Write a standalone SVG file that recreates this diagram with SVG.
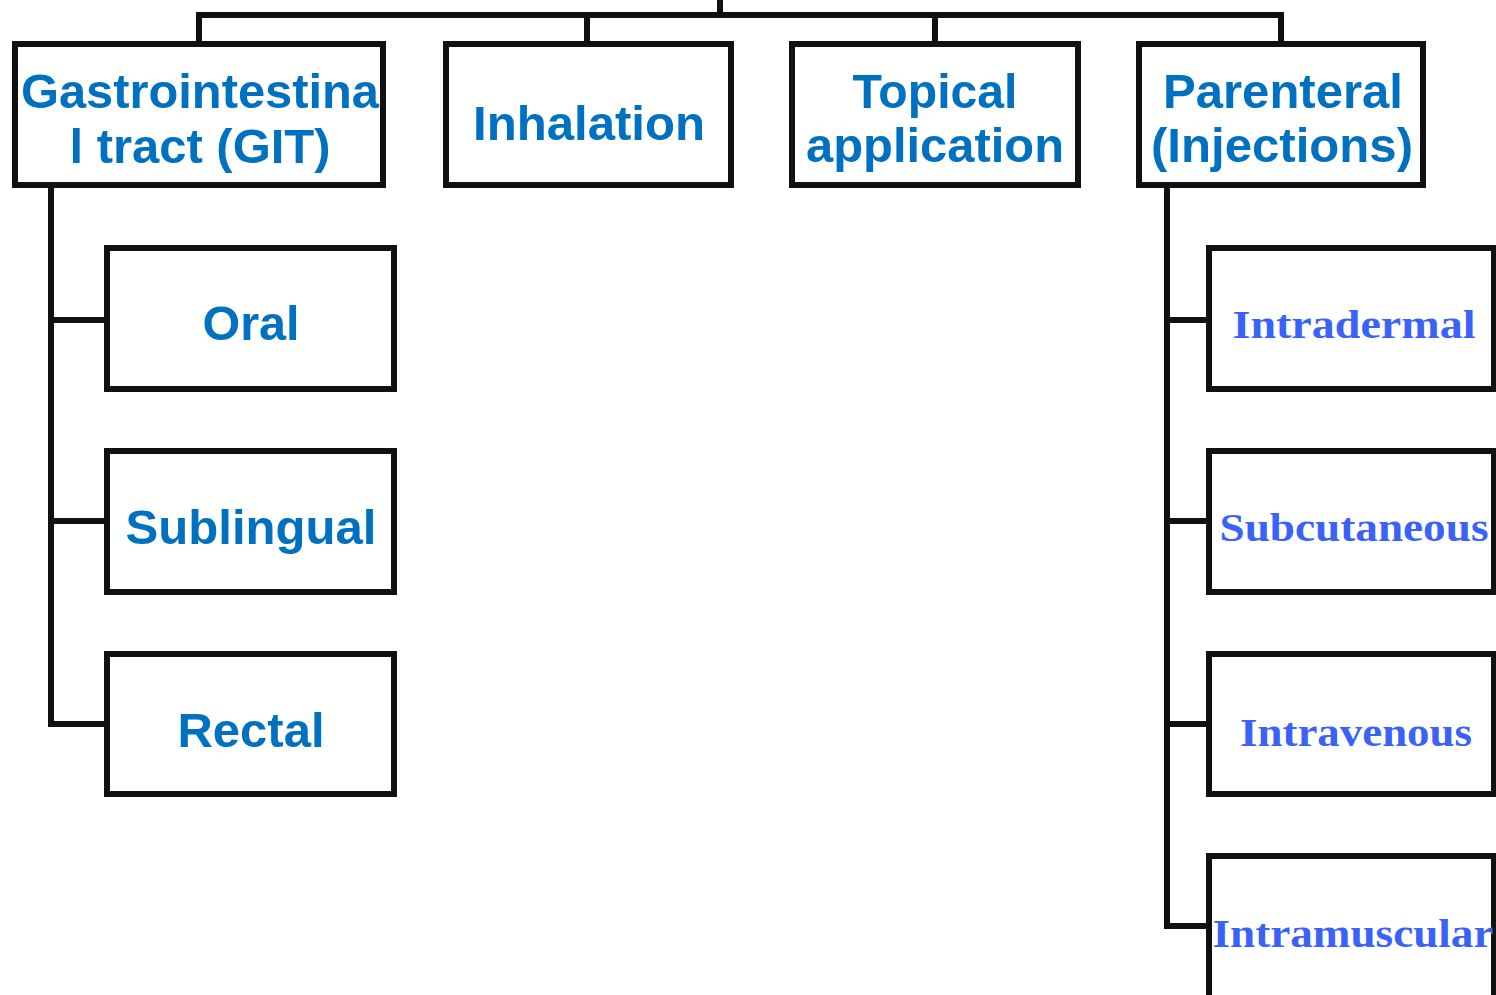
<svg xmlns="http://www.w3.org/2000/svg" width="1496" height="995" viewBox="0 0 1496 995">
<style>
.box{fill:#fff;stroke:#111;stroke-width:6}
.con{fill:none;stroke:#111;stroke-width:6;stroke-linecap:square}
.t1{font-family:"Liberation Sans",Arial,sans-serif;font-weight:bold;font-size:49px;fill:#0070C0;text-anchor:middle}
.t2{font-family:"Liberation Serif","Times New Roman",serif;font-weight:bold;font-size:39px;fill:#3A62F8;text-anchor:middle}
</style>
<rect width="1496" height="995" fill="#fff"/>
<g id="connectors">
<path class="con" d="M720 0V15M199 15H1281M199 15V44M587 15V44M935 15V44M1281 15V44"/>
<path class="con" d="M51 185V724M51 320H107M51 521H107M51 724H107"/>
<path class="con" d="M1167 185V926M1167 320H1209M1167 521H1209M1167 724H1209M1167 926H1209"/>
</g>
<g id="git"><rect class="box" x="15" y="44" width="368" height="141"/>
<text class="t1" x="200" y="108" textLength="358" lengthAdjust="spacingAndGlyphs">Gastrointestina</text>
<text class="t1" x="200" y="163" textLength="261" lengthAdjust="spacingAndGlyphs">l tract (GIT)</text></g>
<g id="inhalation"><rect class="box" x="446" y="44" width="285" height="141"/>
<text class="t1" x="589" y="140" textLength="232" lengthAdjust="spacingAndGlyphs">Inhalation</text></g>
<g id="topical"><rect class="box" x="792" y="44" width="286" height="141"/>
<text class="t1" x="935" y="108" textLength="165" lengthAdjust="spacingAndGlyphs">Topical</text>
<text class="t1" x="935" y="162" textLength="258" lengthAdjust="spacingAndGlyphs">application</text></g>
<g id="parenteral"><rect class="box" x="1139" y="44" width="284" height="141"/>
<text class="t1" x="1283" y="108" textLength="240" lengthAdjust="spacingAndGlyphs">Parenteral</text>
<text class="t1" x="1282" y="162" textLength="262" lengthAdjust="spacingAndGlyphs">(Injections)</text></g>
<g id="oral"><rect class="box" x="107" y="248" width="287" height="141"/>
<text class="t1" x="251" y="340" textLength="97" lengthAdjust="spacingAndGlyphs">Oral</text></g>
<g id="sublingual"><rect class="box" x="107" y="451" width="287" height="141"/>
<text class="t1" x="251" y="544" textLength="251" lengthAdjust="spacingAndGlyphs">Sublingual</text></g>
<g id="rectal"><rect class="box" x="107" y="654" width="287" height="140"/>
<text class="t1" x="251" y="747" textLength="147" lengthAdjust="spacingAndGlyphs">Rectal</text></g>
<g id="intradermal"><rect class="box" x="1209" y="248" width="285" height="141"/>
<text class="t2" x="1354" y="338" textLength="243" lengthAdjust="spacingAndGlyphs">Intradermal</text></g>
<g id="subcutaneous"><rect class="box" x="1209" y="451" width="285" height="141"/>
<text class="t2" x="1354" y="541" textLength="269" lengthAdjust="spacingAndGlyphs">Subcutaneous</text></g>
<g id="intravenous"><rect class="box" x="1209" y="654" width="285" height="140"/>
<text class="t2" x="1356" y="746" textLength="232" lengthAdjust="spacingAndGlyphs">Intravenous</text></g>
<g id="intramuscular"><rect class="box" x="1209" y="856" width="285" height="160"/>
<text class="t2" x="1353" y="947" textLength="281" lengthAdjust="spacingAndGlyphs">Intramuscular</text></g>
</svg>
